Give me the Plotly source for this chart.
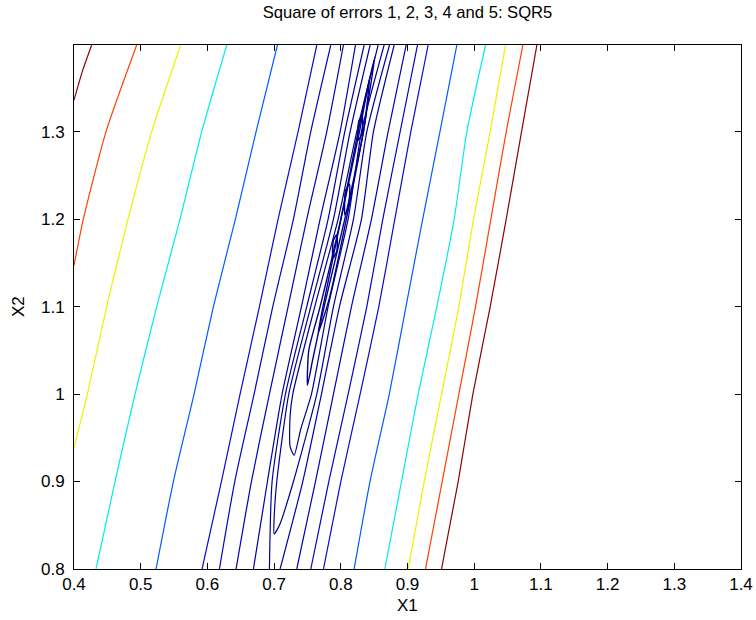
import plotly.graph_objects as go

# ---------------- data ----------------
TITLE = "Square of errors 1, 2, 3, 4 and 5: SQR5"
X_TICKS = [0.4, 0.5, 0.6, 0.7, 0.8, 0.9, 1.0, 1.1, 1.2, 1.3, 1.4]
X_TICK_TEXT = ["0.4", "0.5", "0.6", "0.7", "0.8", "0.9", "1", "1.1", "1.2", "1.3", "1.4"]
Y_TICKS = [0.8, 0.9, 1.0, 1.1, 1.2, 1.3]
Y_TICK_TEXT = ["0.8", "0.9", "1", "1.1", "1.2", "1.3"]

# sample heights (X2) at which full-height contour lines were read
Y_GRID = [0.8, 0.9, 1.0, 1.1, 1.2, 1.3, 1.399]

# outer coloured contours (X1 positions)
brown_left_x = [0.400, 0.413, 0.4265]
brown_left_y = [1.336, 1.370, 1.399]
orange_left_x = [0.400, 0.414, 0.448, 0.494]
orange_left_y = [1.147, 1.200, 1.300, 1.399]
yellow_left_x = [0.400, 0.420, 0.449, 0.481, 0.5165, 0.560]
yellow_left_y = [0.939, 1.000, 1.100, 1.200, 1.300, 1.399]
cyan_left_x = [0.433, 0.4615, 0.4915, 0.524, 0.559, 0.5915, 0.629]
mblue_left_x = [0.523, 0.549, 0.580, 0.609, 0.642, 0.673, 0.705]

mblue_right_x = [0.820, 0.8438, 0.8727, 0.8977, 0.9228, 0.9487, 0.974]
cyan_right_x = [0.866, 0.891, 0.916, 0.944, 0.970, 0.989, 1.017]
yellow_right_x = [0.901, 0.925, 0.951, 0.977, 0.999, 1.024, 1.047]
orange_right_x = [0.927, 0.952, 0.977, 1.002, 1.025, 1.048, 1.073]
brown_right_x = [0.951, 0.976, 0.998, 1.024, 1.048, 1.071, 1.094]

# dark blue contours crossing the whole plot (X1 at Y_GRID)
dark_L1_x = [0.592, 0.621, 0.649, 0.678, 0.706, 0.736, 0.764]
dark_L2_x = [0.618, 0.641, 0.670, 0.698, 0.729, 0.755, 0.785]
dark_L3_x = [0.643, 0.666, 0.693, 0.721, 0.749, 0.779, 0.804]
dark_L4_x = [0.669, 0.690, 0.712, 0.741, 0.769, 0.799, 0.822]
dark_L5_x = [0.693, 0.697, 0.717, 0.749, 0.781, 0.806, 0.835]
dark_R4_x = [0.709, 0.743, 0.771, 0.798, 0.831, 0.849, 0.880]
dark_R3_x = [0.734, 0.762, 0.789, 0.816, 0.846, 0.871, 0.898]
dark_R2_x = [0.755, 0.782, 0.811, 0.839, 0.863, 0.889, 0.915]
dark_R1_x = [0.774, 0.800, 0.829, 0.857, 0.881, 0.905, 0.931]

# U-shaped contours closing near the bottom of the valley
u1_x = [0.844, 0.814, 0.789, 0.755, 0.722, 0.704, 0.700, 0.700, 0.708, 0.729, 0.764, 0.789, 0.819, 0.839, 0.873]
u1_y = [1.399, 1.300, 1.200, 1.100, 1.000, 0.900, 0.857, 0.840, 0.850, 0.900, 1.000, 1.100, 1.200, 1.300, 1.399]
u2_x = [0.856, 0.824, 0.796, 0.761, 0.728, 0.724, 0.724, 0.730, 0.740, 0.756, 0.781, 0.811, 0.831, 0.865]
u2_y = [1.399, 1.300, 1.200, 1.100, 1.000, 0.975, 0.940, 0.930, 0.960, 1.000, 1.100, 1.200, 1.300, 1.399]

# closed contours around the minimum
loop_a_x = [0.750, 0.752, 0.769, 0.800, 0.826, 0.851, 0.840, 0.834, 0.806, 0.775, 0.758, 0.750]
loop_a_y = [1.010, 1.050, 1.100, 1.200, 1.300, 1.385, 1.330, 1.300, 1.200, 1.100, 1.040, 1.010]
loop_b_x = [0.766, 0.776, 0.803, 0.828, 0.843, 0.836, 0.811, 0.783, 0.771, 0.766]
loop_b_y = [1.070, 1.110, 1.210, 1.300, 1.360, 1.310, 1.210, 1.110, 1.080, 1.070]
blob1_x = [0.806, 0.812, 0.813, 0.807, 0.806]
blob1_y = [1.205, 1.215, 1.240, 1.232, 1.205]
blob2_x = [0.826, 0.832, 0.832, 0.827, 0.826]
blob2_y = [1.290, 1.298, 1.318, 1.312, 1.290]
blob3_x = [0.788, 0.794, 0.794, 0.789, 0.788]
blob3_y = [1.155, 1.163, 1.182, 1.176, 1.155]

# colours (jet colormap levels)
C_BROWN = "rgb(140,0,0)"
C_ORANGE = "rgb(255,64,0)"
C_YELLOW = "rgb(240,240,0)"
C_CYAN = "rgb(0,235,235)"
C_MBLUE = "rgb(0,90,255)"
C_D1 = "rgb(10,10,205)"
C_D2 = "rgb(5,5,190)"
C_D3 = "rgb(0,0,178)"
C_D4 = "rgb(0,0,165)"
C_D5 = "rgb(0,0,155)"
C_D6 = "rgb(0,0,148)"
C_D7 = "rgb(0,0,140)"

# ---------------- figure ----------------
fig = go.Figure()


def add_line(xs, ys, color, width=1.2):
    fig.add_trace(go.Scatter(x=xs, y=ys, mode="lines",
                             line=dict(color=color, width=width, shape="spline", smoothing=0.6),
                             hoverinfo="skip", showlegend=False))


add_line(brown_left_x, brown_left_y, C_BROWN)
add_line(orange_left_x, orange_left_y, C_ORANGE)
add_line(yellow_left_x, yellow_left_y, C_YELLOW)
add_line(cyan_left_x, Y_GRID, C_CYAN)
add_line(mblue_left_x, Y_GRID, C_MBLUE)

add_line(dark_L1_x, Y_GRID, C_D1)
add_line(dark_L2_x, Y_GRID, C_D2)
add_line(dark_L3_x, Y_GRID, C_D3)
add_line(dark_L4_x, Y_GRID, C_D4)
add_line(dark_L5_x, Y_GRID, C_D5)
add_line(dark_R4_x, Y_GRID, C_D4)
add_line(dark_R3_x, Y_GRID, C_D3)
add_line(dark_R2_x, Y_GRID, C_D2)
add_line(dark_R1_x, Y_GRID, C_D1)

add_line(u1_x, u1_y, C_D6)
add_line(u2_x, u2_y, C_D7)
add_line(loop_a_x, loop_a_y, C_D7, 1.4)
add_line(loop_b_x, loop_b_y, C_D7, 1.4)
add_line(blob1_x, blob1_y, C_D7, 1.5)
add_line(blob2_x, blob2_y, C_D7, 1.5)
add_line(blob3_x, blob3_y, C_D7, 1.5)

add_line(mblue_right_x, Y_GRID, C_MBLUE)
add_line(cyan_right_x, Y_GRID, C_CYAN)
add_line(yellow_right_x, Y_GRID, C_YELLOW)
add_line(orange_right_x, Y_GRID, C_ORANGE)
add_line(brown_right_x, Y_GRID, C_BROWN)

FONT = "Liberation Sans, Arial, Helvetica, sans-serif"
axis_common = dict(showline=True, linecolor="black", linewidth=1, mirror="ticks",
                   ticks="inside", ticklen=6, tickcolor="black", tickwidth=1,
                   showgrid=False, zeroline=False, automargin=False,
                   tickfont=dict(family=FONT, size=17, color="black"))

fig.update_layout(
    width=756, height=620,
    margin=dict(l=74, r=15, t=45, b=51, autoexpand=False),
    paper_bgcolor="white", plot_bgcolor="white",
    title=dict(text=TITLE, x=407.5 / 756, xanchor="center", y=1 - 12 / 620, yanchor="middle",
               font=dict(family=FONT, size=16.6, color="black")),
    xaxis=dict(range=[0.4, 1.4], tickvals=X_TICKS, ticktext=X_TICK_TEXT, **axis_common),
    yaxis=dict(range=[0.8, 1.399], tickvals=Y_TICKS, ticktext=Y_TICK_TEXT,
               ticklabelstandoff=5, **axis_common),
    annotations=[
        dict(text="X1", x=0.5, xref="paper", y=-36 / 524, yref="paper",
             xanchor="center", yanchor="middle", showarrow=False,
             font=dict(family=FONT, size=17, color="black")),
        dict(text="X2", x=-56 / 667, xref="paper", y=0.5, yref="paper",
             xanchor="center", yanchor="middle", textangle=-90, showarrow=False,
             font=dict(family=FONT, size=17, color="black")),
    ],
)

fig.write_html("out.html", config={"displayModeBar": False, "staticPlot": True},
               post_script="document.body.style.margin='0px';")
